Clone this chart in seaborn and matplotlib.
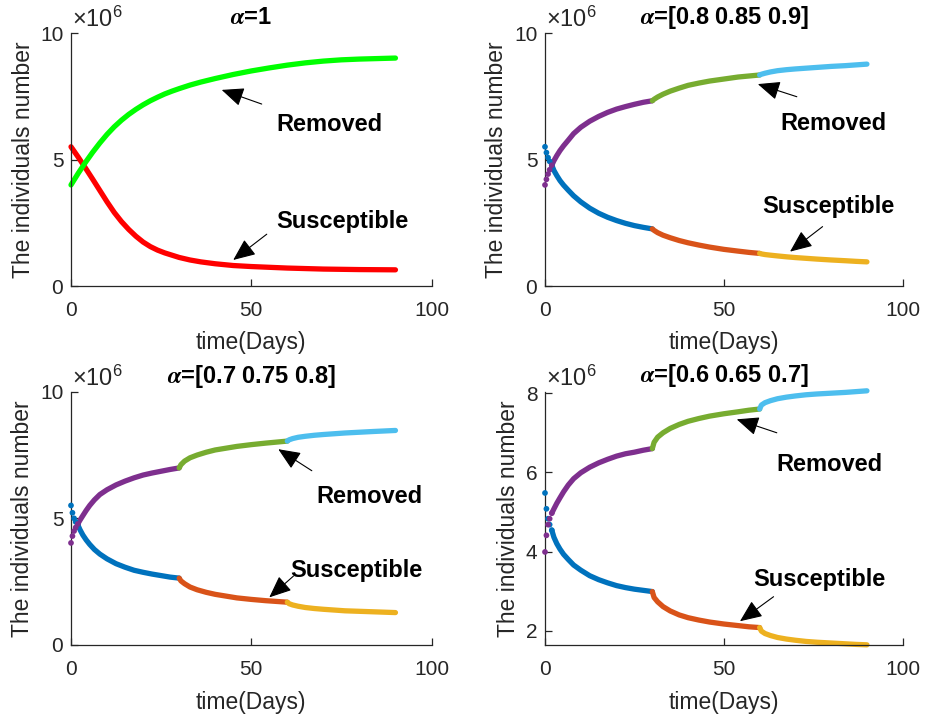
import matplotlib
matplotlib.use("Agg")
import matplotlib.pyplot as plt
import seaborn as sns

# ---------------- data (individuals, in units of 10^6) ----------------
panel_titles = ["=1", "=[0.8 0.85 0.9]", "=[0.7 0.75 0.8]", "=[0.6 0.65 0.7]"]

# panel 1 (alpha = 1), continuous curves
t_p1 = [0, 2, 4, 6, 8, 10, 12, 14, 16, 18, 20, 22, 24, 26, 28, 30, 33, 36, 40, 45,
        50, 55, 60, 65, 70, 75, 80, 85, 90]
S_p1 = [5.51, 5.10, 4.67, 4.23, 3.78, 3.33, 2.91, 2.55, 2.24, 1.97, 1.74, 1.56, 1.42,
        1.31, 1.22, 1.13, 1.03, 0.955, 0.88, 0.81, 0.77, 0.74, 0.71, 0.69, 0.67, 0.66,
        0.65, 0.645, 0.64]
R_p1 = [4.00, 4.46, 4.89, 5.29, 5.66, 6.00, 6.30, 6.56, 6.79, 6.99, 7.17, 7.33, 7.47,
        7.60, 7.71, 7.81, 7.95, 8.07, 8.21, 8.37, 8.51, 8.63, 8.74, 8.83, 8.90, 8.95,
        8.98, 9.00, 9.02]

# fractional panels: sparse early dots + three segments (0-30, 30-60, 60-90 days)
t_dots = [0, 0.4, 0.85, 1.3, 1.9]
t_segA = [1.9, 2.5, 3.3, 4.2, 5.2, 6.5, 8, 10, 12.5, 15, 17.5, 20, 22.5, 25, 27.5, 30]
t_segB = [30, 30.5, 31.5, 33, 35, 37.5, 40, 43, 46, 50, 54, 57, 60]
t_segC = [60, 60.5, 61.5, 63, 65, 67.5, 70, 73, 76, 80, 84, 87, 90]

# panel 2: alpha = [0.8 0.85 0.9]
S_p2_dots = [5.51, 5.28, 5.08, 4.93, 4.78]
R_p2_dots = [4.00, 4.22, 4.43, 4.60, 4.78]
S_p2_A = [4.78, 4.57, 4.37, 4.17, 3.99, 3.79, 3.57, 3.33, 3.08, 2.88, 2.72, 2.59,
          2.48, 2.39, 2.32, 2.26]
R_p2_A = [4.78, 4.96, 5.16, 5.36, 5.55, 5.77, 6.03, 6.28, 6.52, 6.71, 6.87, 7.00,
          7.10, 7.19, 7.27, 7.33]
S_p2_B = [2.26, 2.20, 2.11, 2.01, 1.91, 1.80, 1.71, 1.62, 1.54, 1.45, 1.38, 1.33, 1.29]
R_p2_B = [7.33, 7.39, 7.48, 7.59, 7.71, 7.83, 7.94, 8.03, 8.11, 8.19, 8.27, 8.31, 8.35]
S_p2_C = [1.29, 1.27, 1.245, 1.22, 1.19, 1.155, 1.125, 1.095, 1.065, 1.03, 1.00,
          0.975, 0.955]
R_p2_C = [8.35, 8.38, 8.42, 8.47, 8.52, 8.56, 8.59, 8.62, 8.65, 8.69, 8.72, 8.75, 8.78]

# panel 3: alpha = [0.7 0.75 0.8]
S_p3_dots = [5.51, 5.22, 5.00, 4.86, 4.74]
R_p3_dots = [4.03, 4.30, 4.50, 4.64, 4.78]
S_p3_A = [4.74, 4.55, 4.34, 4.15, 3.97, 3.77, 3.59, 3.40, 3.21, 3.07, 2.95, 2.87,
          2.80, 2.74, 2.68, 2.64]
R_p3_A = [4.78, 4.93, 5.11, 5.31, 5.51, 5.73, 5.94, 6.13, 6.32, 6.47, 6.60, 6.71,
          6.79, 6.86, 6.93, 6.99]
S_p3_B = [2.64, 2.53, 2.42, 2.29, 2.18, 2.08, 2.00, 1.93, 1.86, 1.80, 1.75, 1.72, 1.69]
R_p3_B = [6.99, 7.12, 7.26, 7.39, 7.50, 7.61, 7.70, 7.77, 7.84, 7.91, 7.97, 8.01, 8.05]
S_p3_C = [1.69, 1.63, 1.58, 1.53, 1.48, 1.44, 1.41, 1.38, 1.35, 1.33, 1.31, 1.295, 1.28]
R_p3_C = [8.05, 8.10, 8.15, 8.20, 8.24, 8.28, 8.31, 8.34, 8.37, 8.40, 8.43, 8.45, 8.47]

# panel 4: alpha = [0.6 0.65 0.7]
S_p4_dots = [5.48, 5.08, 4.83, 4.68, 4.54]
R_p4_dots = [3.99, 4.41, 4.68, 4.83, 4.97]
S_p4_A = [4.54, 4.36, 4.20, 4.06, 3.93, 3.80, 3.66, 3.53, 3.39, 3.29, 3.21, 3.14,
          3.09, 3.05, 3.02, 2.99]
R_p4_A = [4.97, 5.08, 5.22, 5.36, 5.51, 5.68, 5.84, 5.99, 6.13, 6.24, 6.33, 6.41,
          6.47, 6.51, 6.56, 6.60]
S_p4_B = [2.99, 2.84, 2.73, 2.61, 2.50, 2.40, 2.33, 2.27, 2.22, 2.17, 2.13, 2.10, 2.08]
R_p4_B = [6.60, 6.76, 6.89, 7.00, 7.11, 7.21, 7.29, 7.36, 7.42, 7.48, 7.53, 7.57, 7.60]
S_p4_C = [2.08, 1.99, 1.93, 1.88, 1.83, 1.79, 1.76, 1.73, 1.71, 1.69, 1.67, 1.655, 1.645]
R_p4_C = [7.60, 7.70, 7.76, 7.81, 7.86, 7.90, 7.93, 7.96, 7.98, 8.00, 8.02, 8.04, 8.06]

x_ticks = [0, 50, 100]
y_ticks_std = [0, 5, 10]
y_ticks_p4 = [2, 4, 6, 8]

# ---------------- style ----------------
sns.set_theme(style="ticks")
plt.rcParams["font.family"] = ["Liberation Sans", "DejaVu Sans"]
plt.rcParams["mathtext.fontset"] = "custom"
plt.rcParams["mathtext.rm"] = "Liberation Sans"
plt.rcParams["mathtext.it"] = "Liberation Sans:italic"
plt.rcParams["mathtext.bf"] = "Liberation Sans:bold"

GRAY = "#262626"
S_COLS = ["#0072BD", "#D95319", "#EDB120"]
R_COLS = ["#7E2F8E", "#77AC30", "#4DBEEE"]
LW = 3.8

fig = plt.figure(figsize=(9.25, 7.17), dpi=100)
W, H = 925.0, 717.0


def axes_px(left, right, top, bottom):
    return fig.add_axes([left / W, (H - bottom) / H, (right - left) / W, (bottom - top) / H])


ax1 = axes_px(71, 431.5, 33.3, 286)
ax2 = axes_px(545, 902.7, 33.3, 286)
ax3 = axes_px(71, 431.5, 391.7, 645)
ax4 = axes_px(545, 902.7, 391.6, 645)
axes = [ax1, ax2, ax3, ax4]


def line(ax, t, v, c):
    sns.lineplot(x=t, y=v, ax=ax, color=c, linewidth=LW, estimator=None,
                 sort=False, legend=False, solid_capstyle="round", clip_on=False)


def dots(ax, t, v, c):
    sns.scatterplot(x=t, y=v, ax=ax, color=c, s=17, edgecolor="none",
                    legend=False, zorder=3, clip_on=False)


# panel 1
line(ax1, t_p1, S_p1, "#FF0000")
line(ax1, t_p1, R_p1, "#00FF00")

frac = [
    (ax2, S_p2_dots, R_p2_dots, [S_p2_A, S_p2_B, S_p2_C], [R_p2_A, R_p2_B, R_p2_C]),
    (ax3, S_p3_dots, R_p3_dots, [S_p3_A, S_p3_B, S_p3_C], [R_p3_A, R_p3_B, R_p3_C]),
    (ax4, S_p4_dots, R_p4_dots, [S_p4_A, S_p4_B, S_p4_C], [R_p4_A, R_p4_B, R_p4_C]),
]
segs_t = [t_segA, t_segB, t_segC]
for ax, sd, rd, Ss, Rs in frac:
    for tt, vv, c in zip(segs_t, Ss, S_COLS):
        line(ax, tt, vv, c)
    dots(ax, t_dots, sd, S_COLS[0])
    for tt, vv, c in zip(segs_t, Rs, R_COLS):
        line(ax, tt, vv, c)
    dots(ax, t_dots, rd, R_COLS[0])

# axes formatting
ylims = [(0, 10), (0, 10), (0, 10), (1.64, 8.04)]
yticks = [y_ticks_std, y_ticks_std, y_ticks_std, y_ticks_p4]
ylab_x = [-0.101, -0.103, -0.102, -0.071]
for i, ax in enumerate(axes):
    ax.set_xlim(0, 100)
    ax.set_ylim(*ylims[i])
    ax.set_xticks(x_ticks)
    ax.set_yticks(yticks[i])
    ax.set_xticklabels([str(v) for v in x_ticks])
    ax.set_yticklabels([str(v) for v in yticks[i]])
    for s in ["top", "right"]:
        ax.spines[s].set_visible(False)
    for s in ["left", "bottom"]:
        ax.spines[s].set_color(GRAY)
        ax.spines[s].set_linewidth(0.9)
    ax.tick_params(axis="both", direction="in", length=5, width=0.9,
                   colors=GRAY, labelsize=15, labelcolor=GRAY)
    ax.tick_params(axis="x", pad=11)
    ax.tick_params(axis="y", pad=5.5)
    ax.set_xlabel("time(Days)", fontsize=16.5, color=GRAY)
    ax.set_ylabel("The individuals number", fontsize=16.5, color=GRAY)
    ax.xaxis.set_label_coords(0.5, -0.18)
    ax.yaxis.set_label_coords(ylab_x[i], 0.5)
    ax.grid(False)
    ax.set_facecolor("white")
    # x10^6 multiplier
    ax.text(0.004, 1.024, r"$\times10^{6}$", transform=ax.transAxes, ha="left",
            va="baseline", fontsize=17, color=GRAY)
    # title
    ax.text(0.5, 1.036, r"$\boldsymbol{\alpha}$" + panel_titles[i], transform=ax.transAxes,
            ha="center", va="baseline", fontsize=17, fontweight="bold", color="black",
            math_fontfamily="stix")

# annotations (arrow tip, arrow tail, text anchor) in data coords
annots = [
    (ax1, (41.8, 7.76), (52.9, 7.20), (57.05, 6.15), (45.0, 1.03), (54.3, 2.05), (57.05, 2.28)),
    (ax2, (59.5, 7.99), (70.4, 7.49), (65.9, 6.17), (68.5, 1.36), (77.6, 2.35), (60.6, 2.88)),
    (ax3, (57.5, 7.73), (66.8, 6.88), (68.2, 5.59), (55.0, 1.88), (61.7, 2.72), (60.9, 2.67)),
    (ax4, (53.6, 7.34), (64.8, 7.00), (64.8, 6.04), (54.5, 2.24), (63.9, 2.86), (58.2, 3.12)),
]
aprops = dict(arrowstyle="-|>,head_length=1.05,head_width=0.45", color="black",
              lw=0.8, shrinkA=0, shrinkB=0, mutation_scale=13)
for ax, rtip, rtail, rtxt, stip, stail, stxt in annots:
    ax.annotate("", xy=rtip, xytext=rtail, xycoords="data", arrowprops=aprops)
    ax.annotate("", xy=stip, xytext=stail, xycoords="data", arrowprops=aprops)
    ax.text(rtxt[0], rtxt[1], "Removed", ha="left", va="baseline", fontsize=17,
            fontweight="bold", color="black")
    ax.text(stxt[0], stxt[1], "Susceptible", ha="left", va="baseline", fontsize=17,
            fontweight="bold", color="black")

fig.savefig("out.png", dpi=100, facecolor="white")
